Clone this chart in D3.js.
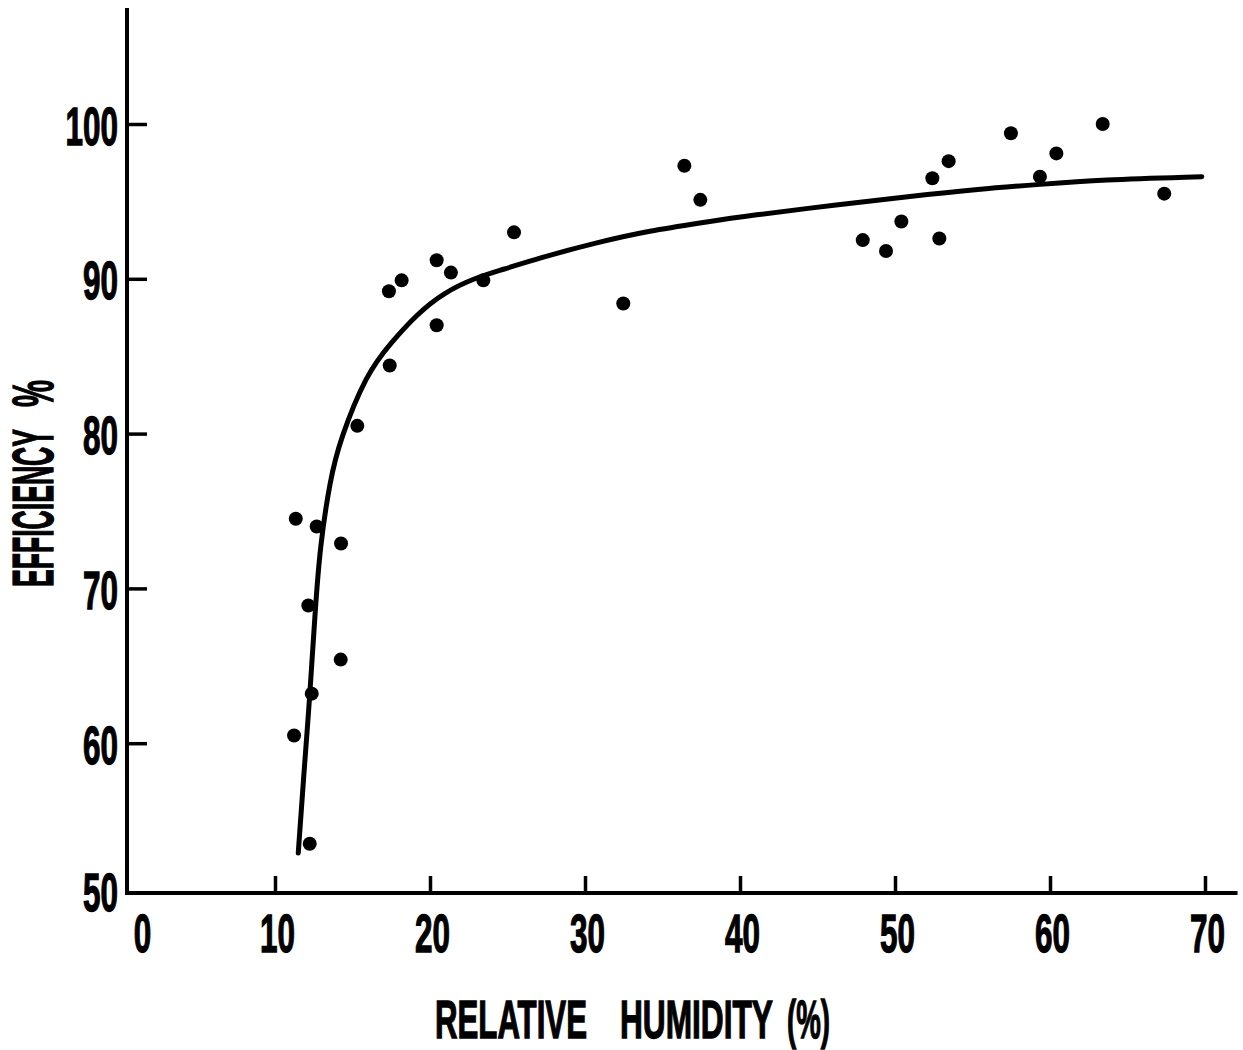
<!DOCTYPE html>
<html>
<head>
<meta charset="utf-8">
<script src="https://cdn.jsdelivr.net/npm/d3@7"></script>
<style>
  body { margin: 0; background: #fff; }
  svg { display: block; }
  text { font-family: "Liberation Sans", Arial, sans-serif; font-weight: bold; fill: #000; stroke: #000; stroke-width: 1.3px; }
</style>
</head>
<body>
<svg></svg>
<script>
// measured points (relative humidity %, efficiency %)
let humidity = [11.34, 12.69, 14.26, 12.15, 14.24, 12.37, 11.23, 12.24, 15.31, 17.40,
                17.35, 18.17, 20.43, 20.43, 21.35, 23.44, 25.42, 32.47, 36.41, 37.44,
                47.92, 49.42, 50.41, 52.41, 52.86, 53.46, 57.48, 59.35, 60.41, 63.40, 67.37];
let efficiency = [74.5, 74.0, 72.9, 68.9, 65.4, 63.2, 60.5, 53.5, 80.5, 84.4,
                  89.2, 89.9, 91.2, 87.0, 90.4, 89.9, 93.0, 88.4, 97.3, 95.1,
                  92.5, 91.8, 93.7, 96.5, 92.6, 97.6, 99.4, 96.6, 98.1, 100.0, 95.5];

// hand drawn fit curve
let fitHumidity = [11.50, 11.83, 12.26, 12.58, 12.90, 13.55, 14.19, 15.92, 17.42, 19.14,
                   20.86, 23.01, 24.73, 26.88, 30.97, 34.19, 37.42, 40.65, 46.45, 50.75,
                   55.48, 59.35, 63.23, 69.79];
let fitEfficiency = [52.9, 57.6, 63.2, 68.4, 72.7, 77.0, 79.6, 83.9, 85.8, 87.7,
                     89.1, 90.1, 90.6, 91.3, 92.4, 93.1, 93.6, 94.1, 94.8, 95.3,
                     95.8, 96.1, 96.4, 96.6];

let xTicks = [0, 10, 20, 30, 40, 50, 60, 70];
let yTicks = [50, 60, 70, 80, 90, 100];

// axis titles, split where the original leaves wide gaps
let xTitleWords = ['RELATIVE', 'HUMIDITY', '(%)'];
let yTitleWords = ['EFFICIENCY', '%'];

let width = 1243;
let height = 1050;
let digitW = 17.5;

let svg = d3.select('svg').attr('width', width).attr('height', height);

let xScale = d3.scaleLinear().domain([0, 70]).range([120, 1205]);
let yScale = d3.scaleLinear().domain([50, 100]).range([898, 124]);

let axisX = 127;   // vertical axis position
let axisY = 893;   // horizontal axis position

// squeeze a text horizontally so it is `len` px wide, starting at (x, y)
let squeeze = (node, x, y, len, rot) => {
    let t = d3.select(node).attr('x', 0).attr('y', 0).attr('dy', null).attr('text-anchor', 'start');
    let natural = node.getComputedTextLength();
    let s = len / natural;
    t.attr('transform', 'translate(' + x + ',' + y + ')' + (rot ? ' rotate(' + rot + ')' : '') + ' scale(' + s + ',1)');
}

// ticks
let yAxis = d3.axisLeft(yScale).tickValues(yTicks).tickSizeInner(-20).tickSizeOuter(0);
let gy = svg.append('g').attr('transform', 'translate(' + axisX + ',0)').call(yAxis);
gy.select('.domain').remove();
gy.selectAll('line').attr('stroke', '#000').attr('stroke-width', 3.5)
  .attr('opacity', (d) => d == 50 ? 0 : 1);
gy.selectAll('text')
  .attr('font-size', 53)
  .each(function (d) {
      let len = String(d).length * digitW;
      squeeze(this, -9 - len, d == 50 ? 12 : 20, len);
  });

let xAxis = d3.axisBottom(xScale).tickValues(xTicks).tickSizeInner(-17).tickSizeOuter(0);
let gx = svg.append('g').attr('transform', 'translate(0,' + axisY + ')').call(xAxis);
gx.select('.domain').remove();
gx.selectAll('line').attr('stroke', '#000').attr('stroke-width', 3.5)
  .attr('opacity', (d) => d == 0 ? 0 : 1);
gx.selectAll('text')
  .attr('font-size', 53)
  .each(function (d) {
      let len = String(d).length * digitW;
      squeeze(this, (d == 0 ? 22 : 2) - len / 2, 59, len);
  });

// axis lines
svg.append('line')
   .attr('x1', axisX).attr('x2', axisX)
   .attr('y1', yScale(107.5)).attr('y2', axisY + 2)
   .attr('stroke', '#000').attr('stroke-width', 4);
svg.append('line')
   .attr('x1', axisX - 2).attr('x2', xScale(72.1))
   .attr('y1', axisY).attr('y2', axisY)
   .attr('stroke', '#000').attr('stroke-width', 4);

// fitted curve
let fit = fitHumidity.map((h, i) => [h, fitEfficiency[i]]);
svg.append('path')
   .datum(fit)
   .attr('fill', 'none')
   .attr('stroke', '#000')
   .attr('stroke-width', 5)
   .attr('stroke-linecap', 'round')
   .attr('d', d3.line().x((d) => xScale(d[0])).y((d) => yScale(d[1])).curve(d3.curveBasis));

// points
let values = humidity.map((h, i) => [h, efficiency[i]]);
svg.selectAll('circle')
   .data(values)
   .enter()
   .append('circle')
   .attr('cx', (d) => xScale(d[0]))
   .attr('cy', (d) => yScale(d[1]))
   .attr('r', 7)
   .attr('fill', '#000');

// axis titles
let xTitleX = [435, 620, 787];
let xTitleLen = [152, 153, 43];
svg.selectAll('.xtitle')
   .data(xTitleWords)
   .enter()
   .append('text')
   .attr('class', 'xtitle')
   .attr('font-size', 53)
   .text((d) => d)
   .each(function (d, i) { squeeze(this, xTitleX[i], 1038, xTitleLen[i]); });

let yTitleY = [587, 407];
let yTitleLen = [158, 27];
svg.selectAll('.ytitle')
   .data(yTitleWords)
   .enter()
   .append('text')
   .attr('class', 'ytitle')
   .attr('font-size', 57)
   .text((d) => d)
   .each(function (d, i) { squeeze(this, 53, yTitleY[i], yTitleLen[i], -90); });
</script>
</body>
</html>
